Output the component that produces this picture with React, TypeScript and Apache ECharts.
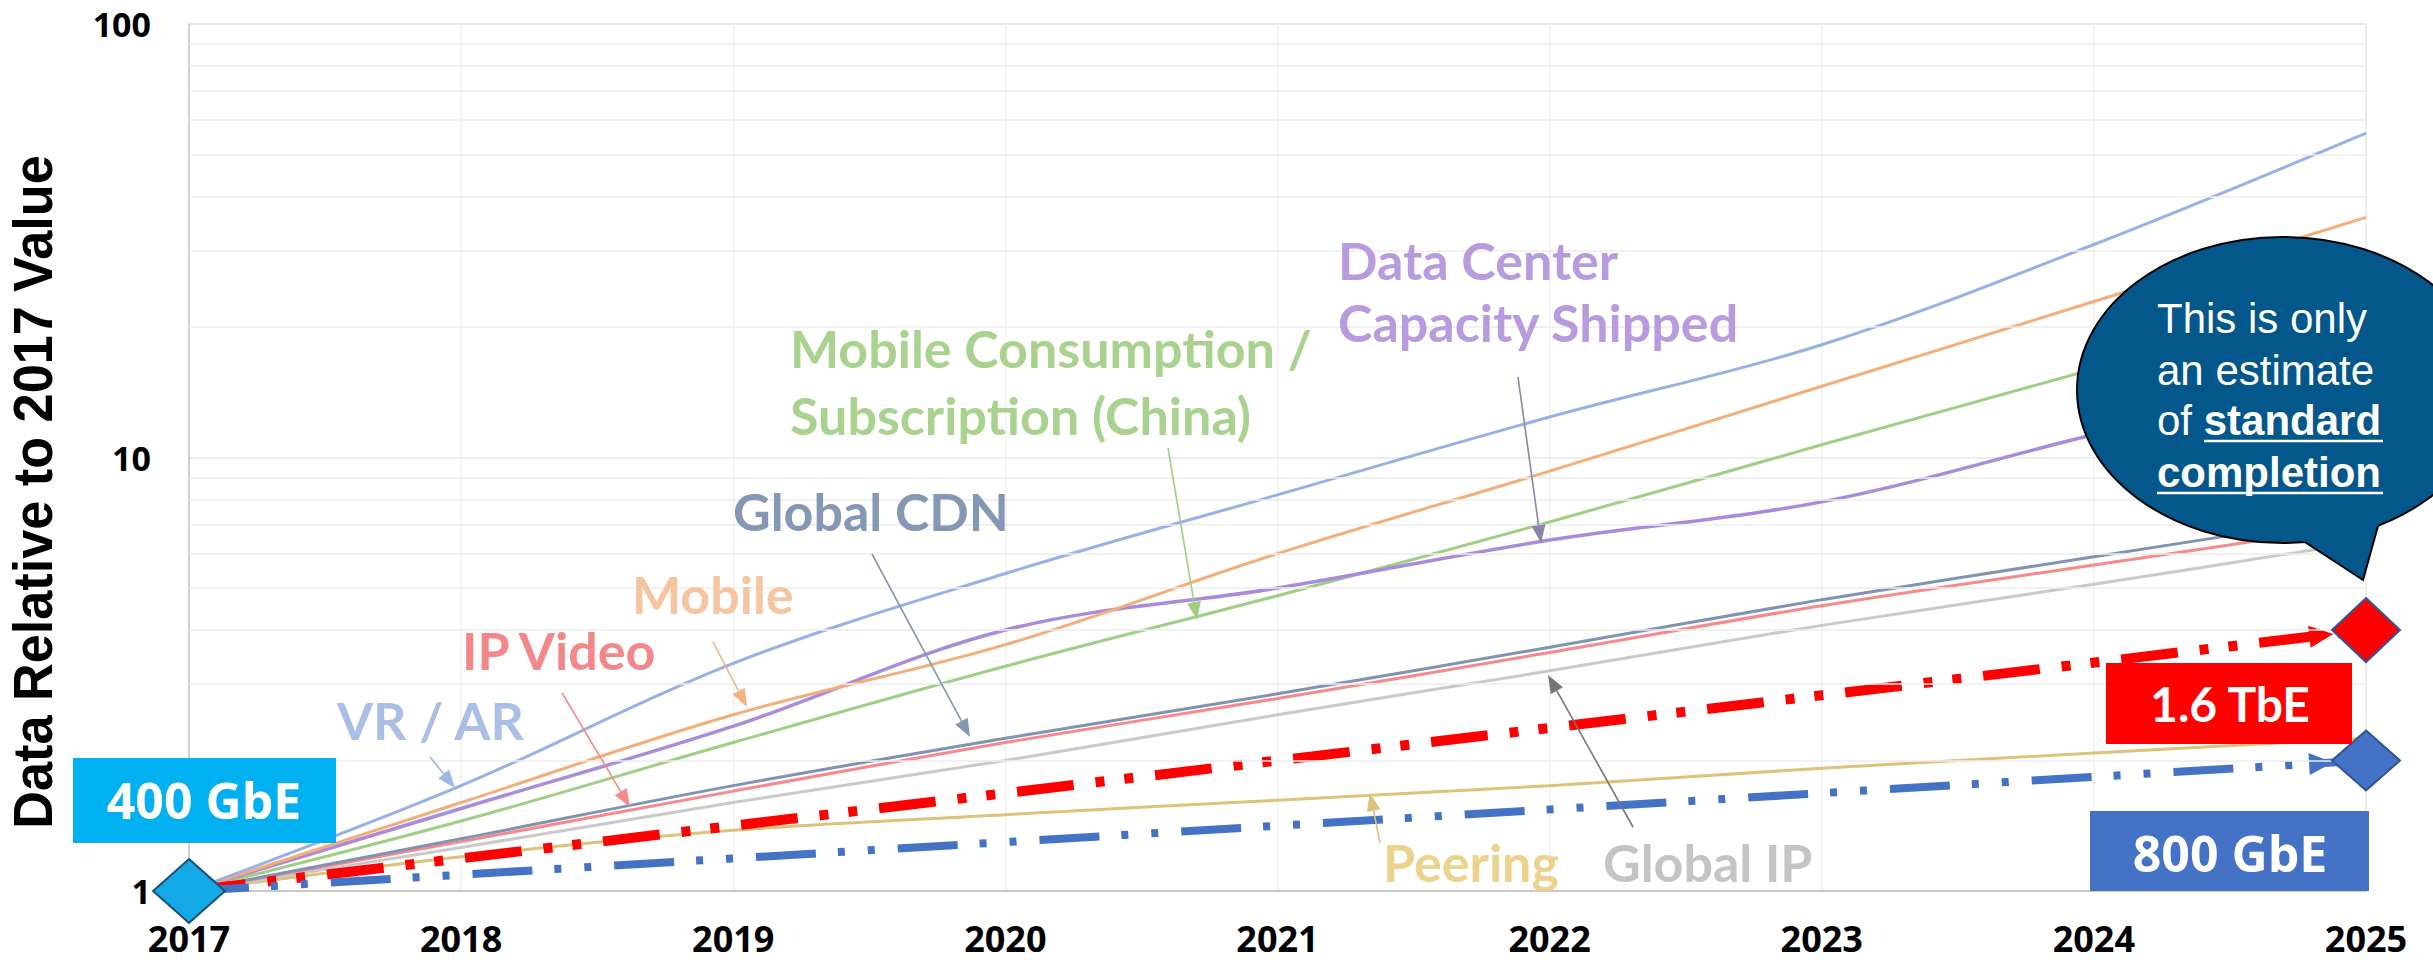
import React, { useEffect, useRef } from "react";
import * as echarts from "echarts";

// ---------- data ----------
const years = [2017, 2018, 2019, 2020, 2021, 2022, 2023, 2024, 2025];
const vrAr = [1, 1.75, 3.35, 5.4, 8.2, 12.4, 18.2, 31, 56];
const mobile = [1, 1.6, 2.55, 3.7, 6.0, 9.3, 14.6, 22.9, 35.8];
const mobileChina = [1, 1.45, 2.2, 3.3, 4.8, 7.1, 10.7, 16, 24];
const dataCenter = [1, 1.55, 2.4, 4.0, 5.0, 6.45, 7.9, 11.3, 16];
const globalCdn = [1, 1.32, 1.75, 2.25, 2.85, 3.65, 4.7, 5.9, 7.4];
const ipVideo = [1, 1.3, 1.7, 2.2, 2.78, 3.55, 4.55, 5.65, 7.0];
const globalIp = [1, 1.26, 1.6, 2.0, 2.55, 3.22, 4.1, 5.1, 6.4];
const peering = [1, 1.2, 1.38, 1.5, 1.62, 1.75, 1.92, 2.08, 2.25];
const tbe16 = [[2017, 1], [2025, 4]];
const gbe800 = [[2017, 1], [2025, 2]];
const gbe400 = [[2017, 1]];
const minorGrid = [2, 3, 4, 5, 6, 7, 8, 9, 20, 30, 40, 50, 60, 70, 80, 90];

const pairs = (vals: number[]) => years.map((y, i) => [y, vals[i]]);

const LABEL_FONT = "Lato, 'Open Sans', sans-serif";

function arrow(x1: number, y1: number, x2: number, y2: number, color: string, lw = 1.6, head = 18, hw = 7) {
  const dx = x2 - x1, dy = y2 - y1;
  const L = Math.hypot(dx, dy);
  const ux = dx / L, uy = dy / L;
  const bx = x2 - ux * head, by = y2 - uy * head;
  const px = -uy, py = ux;
  return {
    type: "group",
    z: 50,
    children: [
      { type: "line", z: 50, shape: { x1, y1, x2: bx, y2: by }, style: { stroke: color, lineWidth: lw } },
      {
        type: "polygon", z: 50,
        shape: { points: [[x2, y2], [bx + px * hw, by + py * hw], [bx - px * hw, by - py * hw]] },
        style: { fill: color },
      },
    ],
  };
}

function label(text: string, x: number, y: number, color: string, size = 52) {
  return {
    type: "text", x, y, z: 50,
    style: { text, fill: color, fontFamily: LABEL_FONT, fontWeight: "bold", fontSize: size, align: "left", verticalAlign: "middle" },
  };
}

function lineSeries(name: string, vals: number[], color: string, width = 3) {
  return {
    name, type: "line", data: pairs(vals), smooth: 0.35, symbol: "none", z: 2,
    lineStyle: { color, width }, silent: true,
  };
}

function arrowHead(data: number[][], color: string, back: number) {
  return {
    type: "custom", z: 4, silent: true,
    data: [[data[0][0], data[0][1], data[1][0], data[1][1]]],
    encode: { x: [0, 2], y: [1, 3] },
    renderItem: (_p: any, api: any) => {
      const s = api.coord([api.value(0), api.value(1)]);
      const e = api.coord([api.value(2), api.value(3)]);
      const dx = e[0] - s[0], dy = e[1] - s[1];
      const L = Math.hypot(dx, dy);
      const ux = dx / L, uy = dy / L;
      const tx = e[0] - ux * back, ty = e[1] - uy * back;
      const bx = tx - ux * 24, by = ty - uy * 24;
      const px = -uy, py = ux;
      return {
        type: "polygon",
        shape: { points: [[tx, ty], [bx + px * 11, by + py * 11], [bx - px * 11, by - py * 11]] },
        style: { fill: color },
      };
    },
  };
}

export default function App() {
  const ref = useRef<HTMLDivElement>(null);
  useEffect(() => {
    if (!ref.current) return;
    const chart = echarts.init(ref.current, null, { renderer: "svg" });
    const white = "#ffffff";
    const bubbleFill = "#03578a";
    const option: any = {
      animation: false,
      backgroundColor: "#ffffff",
      grid: { left: 189, right: 67, top: 24, bottom: 75, show: true, borderColor: "#d9d9d9", borderWidth: 1.5 },
      xAxis: {
        type: "value", min: 2017, max: 2025, interval: 1,
        axisLine: { show: true, lineStyle: { color: "#c8c8c8", width: 2 } },
        axisTick: { show: false },
        splitLine: { show: true, lineStyle: { color: "#f1f1f1", width: 1.5 } },
        axisLabel: { color: "#000", fontFamily: "'Open Sans', sans-serif", fontWeight: "bold", fontSize: 36, margin: 29, formatter: (v: number) => String(v) },
      },
      yAxis: {
        type: "log", logBase: 10, min: 1, max: 100,
        axisLine: { show: true, lineStyle: { color: "#d0d0d0", width: 2 } },
        axisTick: { show: false },
        splitLine: { show: true, lineStyle: { color: "#e8e8e8", width: 1.5 } },
        axisLabel: { color: "#000", fontFamily: "'Open Sans', sans-serif", fontWeight: "bold", fontSize: 34, margin: 38 },
      },
      series: [
        {
          type: "line", data: [], z: 1, silent: true,
          markLine: {
            silent: true, symbol: "none", label: { show: false },
            lineStyle: { color: "#ececec", width: 1.5, type: "solid" },
            data: minorGrid.map((v) => ({ yAxis: v })),
          },
        },
        lineSeries("Peering", peering, "#dcc27a"),
        lineSeries("Global IP", globalIp, "#c9c9c9"),
        lineSeries("IP Video", ipVideo, "#f7898b"),
        lineSeries("Global CDN", globalCdn, "#8093b3"),
        lineSeries("Mobile Consumption / Subscription (China)", mobileChina, "#9fcf85"),
        lineSeries("Data Center Capacity Shipped", dataCenter, "#a98bdb", 3.5),
        lineSeries("Mobile", mobile, "#f4ad78"),
        lineSeries("VR / AR", vrAr, "#98b0e6"),
        {
          name: "1.6 TbE", type: "line", data: tbe16, symbol: "none", z: 3, silent: true,
          lineStyle: { color: "#ff0000", width: 10, type: [57, 22, 9, 20, 9, 22], cap: "butt" },
        },
        {
          name: "800 GbE", type: "line", data: gbe800, symbol: "none", z: 3, silent: true,
          lineStyle: { color: "#4472c4", width: 8, type: [60, 22, 7, 23, 7, 23], cap: "butt" },
        },
        arrowHead(tbe16, "#ff0000", 33),
        arrowHead(gbe800, "#4472c4", 33),
        {
          type: "scatter", data: gbe400, symbol: "diamond", symbolSize: [72, 64], z: 5, silent: true,
          itemStyle: { color: "#12a9e6", borderColor: "#1f4e79", borderWidth: 2, opacity: 1 },
        },
        {
          type: "scatter", data: [tbe16[1]], symbol: "diamond", symbolSize: [68, 64], z: 5, silent: true,
          itemStyle: { color: "#ff0000", borderColor: "#2f5597", borderWidth: 2, opacity: 1 },
        },
        {
          type: "scatter", data: [gbe800[1]], symbol: "diamond", symbolSize: [68, 60], z: 5, silent: true,
          itemStyle: { color: "#4472c4", borderColor: "#2f5597", borderWidth: 2, opacity: 1 },
        },
      ],
      graphic: [
        {
          type: "text", x: 33, y: 492, rotation: Math.PI / 2, scaleX: 0.95, z: 50,
          style: { text: "Data Relative to 2017 Value", fill: "#000", fontFamily: "'Liberation Sans', Arial, sans-serif", fontWeight: "bold", fontSize: 55, align: "center", verticalAlign: "middle" },
        },
        // annotation labels
        label("VR / AR", 337, 720, "#aabfe6"),
        label("IP Video", 462, 650, "#f3878a"),
        label("Mobile", 632, 594, "#f6c49e"),
        label("Global CDN", 733, 511, "#8497b5"),
        label("Mobile Consumption /", 790, 348, "#a9d28f"),
        label("Subscription (China)", 790, 415, "#a9d28f"),
        label("Data Center", 1338, 260, "#b89ade"),
        label("Capacity Shipped", 1338, 322, "#b89ade"),
        label("Peering", 1383, 862, "#ecd28c"),
        label("Global IP", 1603, 862, "#c4c4c4"),
        // annotation arrows
        arrow(430, 757, 455, 788, "#9fb6e8"),
        arrow(562, 693, 630, 807, "#f58a8a"),
        arrow(713, 642, 747, 707, "#f4b183"),
        arrow(872, 554, 970, 737, "#8497b0"),
        arrow(1168, 448, 1197, 620, "#9fcf85"),
        arrow(1518, 377, 1541, 543, "#8a86a8"),
        arrow(1380, 843, 1370, 793, "#dcc27a"),
        arrow(1633, 827, 1548, 675, "#777777"),
        // label boxes
        { type: "rect", z: 60, shape: { x: 73, y: 758, width: 263, height: 85 }, style: { fill: "#00b0f0" } },
        { type: "text", z: 61, x: 204, y: 800, style: { text: "400 GbE", fill: white, fontFamily: "'Open Sans', sans-serif", fontWeight: "bold", fontSize: 50, align: "center", verticalAlign: "middle" } },
        { type: "rect", z: 60, shape: { x: 2106, y: 663, width: 246, height: 81 }, style: { fill: "#ff0000" } },
        { type: "text", z: 61, x: 2230, y: 703, style: { text: "1.6 TbE", fill: white, fontFamily: LABEL_FONT, fontWeight: "bold", fontSize: 48, align: "center", verticalAlign: "middle" } },
        { type: "rect", z: 60, shape: { x: 2090, y: 811, width: 279, height: 80 }, style: { fill: "#4472c4" } },
        { type: "text", z: 61, x: 2230, y: 853, style: { text: "800 GbE", fill: white, fontFamily: "'Open Sans', sans-serif", fontWeight: "bold", fontSize: 50, align: "center", verticalAlign: "middle" } },
        // speech bubble
        { type: "ellipse", z: 70, shape: { cx: 2283, cy: 390, rx: 206, ry: 153 }, style: { fill: bubbleFill, stroke: "#000", lineWidth: 2 } },
        { type: "polygon", z: 71, shape: { points: [[2303, 528], [2303, 542], [2363, 580], [2378, 526], [2378, 512]] }, style: { fill: bubbleFill } },
        { type: "polyline", z: 72, shape: { points: [[2305, 542], [2363, 580], [2378, 526]] }, style: { stroke: "#000", lineWidth: 2, fill: null } },
        { type: "text", z: 73, x: 2157, y: 318, style: { text: "This is only", fill: white, fontFamily: "'Liberation Sans', Arial, sans-serif", fontSize: 42, align: "left", verticalAlign: "middle" } },
        { type: "text", z: 73, x: 2157, y: 370, style: { text: "an estimate", fill: white, fontFamily: "'Liberation Sans', Arial, sans-serif", fontSize: 42, align: "left", verticalAlign: "middle" } },
        {
          type: "text", z: 73, x: 2157, y: 420,
          style: {
            text: "{n|of }{b|standard}", align: "left", verticalAlign: "middle",
            rich: {
              n: { fill: white, fontFamily: "'Liberation Sans', Arial, sans-serif", fontSize: 42 },
              b: { fill: white, fontFamily: "'Liberation Sans', Arial, sans-serif", fontSize: 42, fontWeight: "bold" },
            },
          },
        },
        { type: "text", z: 73, x: 2157, y: 472, style: { text: "completion", fill: white, fontFamily: "'Liberation Sans', Arial, sans-serif", fontWeight: "bold", fontSize: 42, align: "left", verticalAlign: "middle" } },
        { type: "line", z: 73, shape: { x1: 2204, y1: 441, x2: 2383, y2: 441 }, style: { stroke: white, lineWidth: 2.5 } },
        { type: "line", z: 73, shape: { x1: 2157, y1: 493, x2: 2383, y2: 493 }, style: { stroke: white, lineWidth: 2.5 } },
      ],
    };
    chart.setOption(option);
    return () => chart.dispose();
  }, []);
  return <div ref={ref} style={{ position: "fixed", left: 0, top: 0, width: 2433, height: 966, background: "#fff" }} />;
}
